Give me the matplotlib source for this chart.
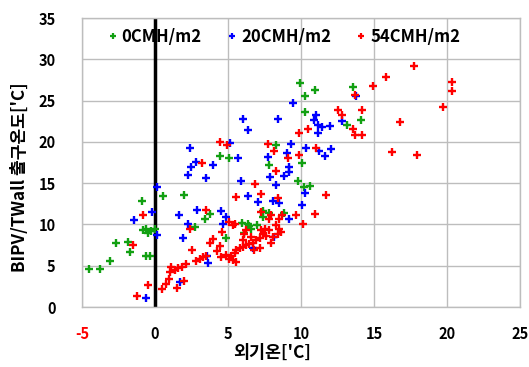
import matplotlib
matplotlib.use("Agg")
import matplotlib.pyplot as plt

plt.rcParams['font.family'] = ['Noto Sans CJK KR', 'DejaVu Sans']
plt.rcParams['axes.unicode_minus'] = False

series_names = ["0CMH/m2", "20CMH/m2", "54CMH/m2"]
series_colors = ["#12a012", "#0000ff", "#ff0000"]

green_x = [-4.53, -3.76, -3.1, -2.7, -1.87, -1.71, -0.6, -0.35, -0.8, -0.5, -0.3, 0.0, -0.6, -0.86,
           0.53, 1.98, 2.71, 3.4, 3.74, 4.88, 4.47, 5.1, 5.97, 6.36, 6.47, 6.97, 6.59, 6.13, 7.38,
           7.84, 7.38, 8.82, 7.84, 8.3, 9.82, 10.23, 10.64, 10.07, 10.3, 10.25, 9.96, 10.98, 13.53,
           13.15, 14.1]
green_y = [4.6, 4.6, 5.6, 7.7, 7.9, 6.7, 6.2, 6.2, 9.3, 9.0, 9.2, 9.4, 9.5, 12.8,
           13.4, 13.6, 9.7, 10.6, 11.3, 8.4, 18.3, 18.0, 10.2, 10.1, 9.8, 9.9, 9.5, 9.0, 11.6,
           11.4, 10.9, 11.4, 17.2, 19.6, 15.2, 14.5, 14.7, 17.4, 23.6, 25.6, 27.1, 26.3, 26.7,
           22.1, 22.6]

blue_x = [-0.64, -1.41, -0.23, 0.12, 0.12, 1.62, 1.9, 2.24, 2.9, 1.69, 2.38, 2.79, 2.49, 2.24,
          3.47, 3.55, 3.6, 3.96, 4.54, 4.88, 4.65, 5.13, 5.67, 5.86, 6.02, 6.36, 6.36, 6.7, 7.07,
          7.75, 7.89, 8.11, 8.52, 8.18, 8.3, 8.4, 8.82, 9.02, 9.2, 9.2, 9.2, 9.32, 9.46, 10.05,
          10.3, 10.35, 11.0, 10.9, 11.14, 11.44, 12.0, 11.14, 11.26, 11.67, 12.06, 12.8, 13.8]
blue_y = [1.1, 10.5, 11.5, 8.7, 14.5, 11.1, 8.3, 10.0, 11.8, 3.05, 19.2, 17.6, 16.9, 16.0,
          15.6, 6.2, 5.3, 17.2, 11.6, 10.9, 10.0, 19.9, 18.1, 15.3, 22.8, 21.4, 13.4, 7.1, 12.7,
          18.2, 15.7, 12.8, 12.6, 8.5, 14.8, 22.8, 15.9, 18.6, 16.9, 16.4, 10.7, 19.7, 24.7, 12.4,
          13.8, 19.2, 23.2, 22.7, 22.1, 21.8, 21.9, 21.1, 18.9, 18.3, 19.1, 22.5, 25.5]

red_x = [-1.23, -0.45, -0.79, -1.48, 0.5, 0.73, 0.96, 1.12, 1.35, 1.05, 1.57, 1.87, 2.1, 1.5,
         1.96, 2.37, 2.53, 2.83, 3.06, 3.28, 3.51, 4.24, 4.47, 3.79, 3.96, 4.61, 3.19, 3.5, 4.47,
         4.92, 5.58, 6.86, 7.27, 8.4, 7.75, 8.18, 9.09, 8.3, 9.84, 10.46, 11.03, 9.89, 11.7, 10.96,
         10.16, 9.66, 7.27, 7.95, 7.84, 8.52, 8.7, 5.1, 5.33, 5.45,
         4.54, 4.88, 5.06, 5.22, 5.45, 5.56, 5.79, 6.02, 6.25, 6.47, 6.7, 6.93, 7.16, 7.38, 7.27,
         7.5, 7.61, 7.84, 6.81, 7.16, 7.95, 8.07, 8.4, 8.52, 8.3, 8.64, 5.52, 6.13, 6.25, 6.02,
         6.59, 5.33,
         12.5, 12.8, 14.95, 15.8, 17.75, 13.7, 20.37, 20.37, 19.73, 14.18, 16.8, 13.53, 13.7, 14.18,
         16.2, 17.94]
red_y = [1.3, 2.7, 11.1, 7.5, 2.2, 2.8, 3.4, 4.8, 4.5, 4.2, 4.7, 4.9, 5.2, 2.3,
         3.2, 9.5, 6.9, 5.6, 5.8, 6.0, 6.2, 6.8, 7.4, 7.7, 8.2, 9.1, 17.4, 11.7, 20.0,
         19.6, 13.3, 14.9, 13.7, 13.2, 19.8, 18.9, 18.0, 16.5, 21.1, 21.6, 19.2, 18.4, 13.6, 11.3,
         10.1, 11.1, 11.5, 11.1, 10.7, 10.6, 11.1, 10.3, 9.9, 10.1,
         6.0, 6.3, 5.8, 6.2, 6.5, 6.9, 7.1, 7.3, 7.5, 7.6, 7.8, 8.1, 8.3, 8.9, 9.3,
         9.4, 8.6, 9.3, 6.9, 7.1, 7.8, 8.5, 8.9, 9.4, 9.9, 9.1, 5.4, 8.9, 9.3, 8.1,
         8.5, 5.7,
         23.8, 23.3, 26.8, 27.8, 29.2, 25.7, 27.2, 26.1, 24.2, 23.8, 22.4, 21.5, 20.8, 20.8,
         18.8, 18.4]

x_ticks = [-5, 0, 5, 10, 15, 20, 25]
y_ticks = [0, 5, 10, 15, 20, 25, 30, 35]
x_label = "외기온['C]"
y_label = "BIPV/TWall 출구온도['C]"

fig = plt.figure(figsize=(5.29, 3.67), dpi=100)
ax = fig.add_axes([82/529, 1-307/367, 438/529, 289/367])

grid_c = "#bdbdbd"
for s in ax.spines.values():
    s.set_color(grid_c)
    s.set_linewidth(1.0)

ax.set_xlim(-5, 25)
ax.set_ylim(0, 35)
ax.set_xticks(x_ticks)
ax.set_yticks(y_ticks)
ax.grid(True, color=grid_c, linewidth=1.0)
ax.set_axisbelow(True)
ax.tick_params(length=0, labelsize=10.5)
ax.tick_params(axis='y', pad=19)
ax.tick_params(axis='x', pad=14)
for lab in ax.get_xticklabels() + ax.get_yticklabels():
    lab.set_fontweight('bold')
ax.get_xticklabels()[0].set_color('#ff0000')

ax.axvline(0, color='black', linewidth=2.5, zorder=2)

data = [(green_x, green_y), (blue_x, blue_y), (red_x, red_y)]
for (xs, ys), name, c in zip(data, series_names, series_colors):
    ax.plot(xs, ys, linestyle='none', marker='+', markersize=6, markeredgewidth=1.7,
            color=c, label=name, zorder=3, clip_on=False)

leg_handles = [plt.Line2D([], [], linestyle='none', marker='+', markersize=5,
                          markeredgewidth=1.6, color=c) for c in series_colors]
ax.legend(leg_handles, series_names, loc='center', bbox_to_anchor=(0.457, 0.934), ncol=3,
          frameon=False, handletextpad=0.05, columnspacing=1.3, handlelength=1.0,
          prop={'weight': 'bold', 'size': 12})

ax.set_xlabel(x_label, fontsize=12.5, fontweight='bold', va='center')
ax.xaxis.set_label_coords(0.434, -0.16)
ax.set_ylabel(y_label, fontsize=12.3, fontweight='bold', va='center')
ax.yaxis.set_label_coords(-0.1416, 0.45)

fig.savefig("out.png", dpi=100)
